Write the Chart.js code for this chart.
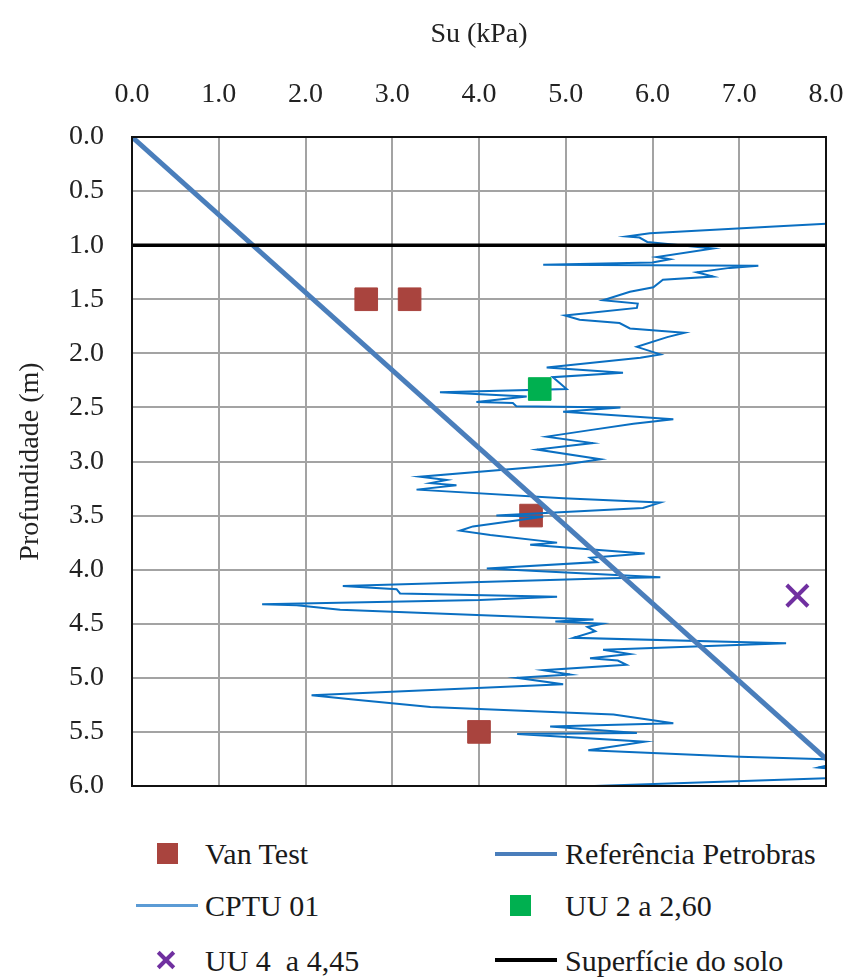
<!DOCTYPE html>
<html>
<head>
<meta charset="utf-8">
<script src="https://cdn.jsdelivr.net/npm/chart.js@4"></script>
<style>
  body { margin: 0; background: #fff; font-family: 'Liberation Serif', 'Times New Roman', serif; }
  #wrap { position: relative; width: 846px; height: 979px; }
  #chart { position: absolute; left: 0; top: 0; }
  .lg { position: absolute; font-size: 30px; color: #1a1a1a; line-height: 30px; white-space: pre; }
  .sq { position: absolute; width: 21px; height: 21px; }
  .ln { position: absolute; width: 62px; }
  .xm { position: absolute; width: 22px; height: 4px; background: #7030a0; }
</style>
</head>
<body>
<div id="wrap">
  <canvas id="chart" width="846" height="810"></canvas>

  <div class="sq" style="left:157px; top:843px; background:#a9443e;"></div>
  <div class="lg" style="left:205px; top:839px;">Van Test</div>
  <div class="ln" style="left:495px; top:852px; height:4px; background:#4a7ebb;"></div>
  <div class="lg" style="left:565px; top:839px;">Referência Petrobras</div>

  <div class="ln" style="left:136px; top:904px; height:3px; background:#5b9bd5;"></div>
  <div class="lg" style="left:205px; top:891px;">CPTU 01</div>
  <div class="sq" style="left:510px; top:895px; background:#00b050;"></div>
  <div class="lg" style="left:565px; top:891px;">UU 2 a 2,60</div>

  <div class="xm" style="left:155px; top:958px; transform:rotate(45deg);"></div>
  <div class="xm" style="left:155px; top:958px; transform:rotate(-45deg);"></div>
  <div class="lg" style="left:205px; top:946px;">UU 4  a 4,45</div>
  <div class="ln" style="left:495px; top:958px; height:4px; background:#000;"></div>
  <div class="lg" style="left:565px; top:946px;">Superfície do solo</div>
</div>

<script>
// Vane test points
const vanSu = [2.7, 3.2, 4.6, 4.0];
const vanDepth = [1.5, 1.5, 3.5, 5.5];

// Petrobras reference line
const refSu = [0, 8];
const refDepth = [0, 5.75];

// CPTU 01 profile
const cptuSu = [
  8.3, 7.35, 5.97, 5.70, 5.85, 5.94, 6.70, 6.05, 6.20, 6.00,
  4.74, 7.22, 6.89, 6.51, 6.70, 6.12, 6.01, 5.74, 5.43, 5.83,
  5.82, 4.99, 5.16, 5.62, 5.74, 6.37, 6.17, 5.82, 6.09, 5.86,
  4.78, 5.66, 4.85, 5.01, 3.55, 4.55, 3.97, 4.39, 4.43, 5.63,
  4.97, 6.24, 5.78, 5.28, 4.78, 5.31, 4.67, 5.40, 4.97, 3.32,
  3.63, 3.44, 3.74, 3.28, 4.97, 6.09, 5.89, 4.20, 4.74, 3.93,
  3.78, 4.13, 4.90, 4.59, 5.91, 5.28, 5.36, 4.09, 6.09, 5.51,
  2.43, 3.05, 3.09, 4.90, 4.01, 1.50, 1.90, 2.40, 5.32, 4.88,
  5.42, 5.25, 5.34, 5.09, 7.54, 5.43, 5.74, 5.28, 5.60, 5.70,
  4.74, 5.05, 4.44, 4.97, 2.07, 2.55, 3.44, 5.55, 6.24, 4.82,
  5.82, 4.44, 5.91, 5.26, 7.01, 8.3, 7.91, 8.3, 8.3, 5.33
];
const cptuDepth = [
  0.79, 0.83, 0.89, 0.92, 0.93, 0.97, 1.03, 1.11, 1.13, 1.16,
  1.18, 1.19, 1.21, 1.25, 1.29, 1.32, 1.39, 1.43, 1.51, 1.54,
  1.58, 1.65, 1.69, 1.72, 1.77, 1.81, 1.85, 1.94, 2.01, 2.04,
  2.13, 2.18, 2.22, 2.33, 2.36, 2.40, 2.45, 2.46, 2.49, 2.50,
  2.54, 2.61, 2.65, 2.71, 2.77, 2.83, 2.89, 2.98, 3.03, 3.14,
  3.17, 3.20, 3.22, 3.26, 3.34, 3.38, 3.43, 3.50, 3.51, 3.60,
  3.64, 3.68, 3.75, 3.77, 3.85, 3.89, 3.93, 3.99, 4.07, 4.08,
  4.15, 4.18, 4.22, 4.25, 4.28, 4.32, 4.33, 4.37, 4.46, 4.48,
  4.50, 4.53, 4.57, 4.63, 4.68, 4.74, 4.78, 4.82, 4.84, 4.88,
  4.93, 4.97, 5.00, 5.06, 5.16, 5.20, 5.27, 5.34, 5.42, 5.45,
  5.51, 5.52, 5.59, 5.67, 5.73, 5.76, 5.83, 5.86, 5.92, 6.00
];

// UU triaxial tests
const uu2Su = [4.7];
const uu2Depth = [2.33];
const uu4Su = [7.67];
const uu4Depth = [4.24];

// ground surface
const soloSu = [0, 8];
const soloDepth = [1, 1];

const xTicks = [0, 1, 2, 3, 4, 5, 6, 7, 8];

function pts(xs, ys) {
  return xs.map((x, i) => ({ x: x, y: ys[i] }));
}

const fontFam = "'Liberation Serif', 'Times New Roman', serif";

const frame = {
  id: 'frame',
  afterDatasetsDraw(chart) {
    const a = chart.chartArea;
    const ctx = chart.ctx;
    ctx.save();
    ctx.strokeStyle = '#111';
    ctx.lineWidth = 2;
    ctx.strokeRect(a.left, a.top, a.right - a.left, a.bottom - a.top);
    ctx.restore();
  }
};

new Chart(document.getElementById('chart'), {
  type: 'scatter',
  data: {
    datasets: [
      {
        label: 'UU 2 a 2,60', data: pts(uu2Su, uu2Depth),
        pointStyle: 'rect', pointRadius: 16, backgroundColor: '#00b050',
        borderColor: '#00b050', borderWidth: 1, order: 0
      },
      {
        label: 'UU 4  a 4,45', data: pts(uu4Su, uu4Depth),
        pointStyle: 'crossRot', pointRadius: 15, borderColor: '#7030a0',
        borderWidth: 4, order: 0
      },
      {
        label: 'Superfície do solo', data: pts(soloSu, soloDepth),
        showLine: true, borderColor: '#000', borderWidth: 3.5,
        pointRadius: 0, order: 1
      },
      {
        label: 'Referência Petrobras', data: pts(refSu, refDepth),
        showLine: true, borderColor: '#4a7ebb', borderWidth: 5,
        pointRadius: 0, order: 2, clip: 0
      },
      {
        label: 'CPTU 01', data: pts(cptuSu, cptuDepth),
        showLine: true, borderColor: '#0a6fc2', borderWidth: 2,
        pointRadius: 0, tension: 0, order: 3, clip: 0
      },
      {
        label: 'Van Test', data: pts(vanSu, vanDepth),
        pointStyle: 'rect', pointRadius: 16, backgroundColor: '#a9443e',
        borderColor: '#a9443e', borderWidth: 1, order: 4
      }
    ]
  },
  options: {
    responsive: false,
    animation: false,
    layout: { padding: { left: 0, right: 20, top: 0, bottom: 24 } },
    plugins: { legend: { display: false }, tooltip: { enabled: false } },
    scales: {
      x: {
        type: 'linear', position: 'top', min: 0, max: 8,
        afterBuildTicks: (s) => { s.ticks = xTicks.map(v => ({ value: v })); },
        afterFit: (s) => { s.height = 137; s.paddingLeft = 0; s.paddingRight = 0; },
        ticks: {
          padding: 26, color: '#222',
          font: { family: fontFam, size: 28 },
          callback: (v) => Number(v).toFixed(1)
        },
        grid: { color: '#a3a3a3', lineWidth: 2, drawTicks: false },
        border: { display: false },
        title: {
          display: true, text: 'Su (kPa)', color: '#222',
          font: { family: fontFam, size: 28 }, padding: { top: 18, bottom: 0 }
        }
      },
      y: {
        type: 'linear', reverse: true, min: 0, max: 6,
        afterFit: (s) => { s.width = 132; s.paddingTop = 0; s.paddingBottom = 0; },
        ticks: {
          stepSize: 0.5, padding: 28, color: '#222',
          font: { family: fontFam, size: 28 },
          callback: (v) => Number(v).toFixed(1)
        },
        grid: { color: '#a3a3a3', lineWidth: 2, drawTicks: false },
        border: { display: false },
        title: {
          display: true, text: 'Profundidade (m)', color: '#222',
          font: { family: fontFam, size: 28 }, padding: { top: 14, bottom: 0 }
        }
      }
    }
  },
  plugins: [frame]
});
</script>
</body>
</html>
